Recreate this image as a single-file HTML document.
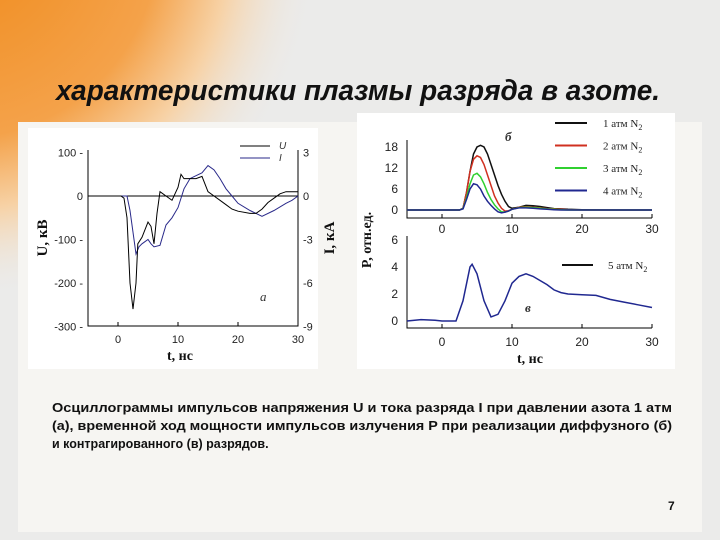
<!DOCTYPE html>
<html><head><meta charset="utf-8"><style>
body{margin:0;width:720px;height:540px;overflow:hidden;font-family:"Liberation Sans",sans-serif;}
svg{display:block}
</style></head><body>
<svg id="s" width="720" height="540" viewBox="0 0 720 540" xmlns="http://www.w3.org/2000/svg">
<defs>
<radialGradient id="og" cx="-40" cy="-60" r="360" gradientUnits="userSpaceOnUse">
<stop offset="0" stop-color="#f08a1a"/><stop offset="0.55" stop-color="#f4a24a"/><stop offset="0.75" stop-color="#f7d2a6"/><stop offset="1" stop-color="#ebebea" stop-opacity="0"/></radialGradient>
</defs>
<rect width="720" height="540" fill="#ebebea"/>
<rect width="720" height="540" fill="url(#og)"/>
<rect x="18" y="122" width="684" height="410" fill="#f6f5f2"/>
<text x="56" y="100" textLength="604" lengthAdjust="spacingAndGlyphs" font-size="29" font-weight="bold" font-style="italic" fill="#111">характеристики плазмы разряда в азоте.</text>
<rect x="28" y="128" width="290" height="241" fill="#fff"/>
<rect x="357" y="113" width="318" height="256" fill="#fff"/>
<g id="ga"></g>
<g id="gb"></g>
<g font-size="12.5" font-weight="bold" fill="#111">
<text x="52" y="412" textLength="620" lengthAdjust="spacingAndGlyphs">Осциллограммы импульсов напряжения U и тока разряда I при давлении азота 1 атм</text>
<text x="52" y="430" textLength="620" lengthAdjust="spacingAndGlyphs">(а), временной ход мощности импульсов излучения P при реализации  диффузного (б)</text>
<text x="52" y="448">и контрагированного (в) разрядов.</text>
</g>
<text x="668" y="510" font-size="12" font-weight="bold" fill="#111">7</text>
</svg>
<script>
// Chart a data
const uT=[-5,-3,-1,0.5,1,1.5,2,2.5,3,3.3,4,5,5.5,6,6.5,7,8,9,10,10.5,11,12,13,14,15,16,17,18,19,20,22,23,24,25,26,27,28,30];
const uV=[0,0,0,0,-5,-50,-200,-260,-200,-110,-95,-60,-70,-110,-40,10,0,-10,20,50,40,40,40,45,10,0,-10,-20,-30,-35,-40,-40,-30,-15,-5,5,10,10];
const iT=[-5,-3,-1,1,1.5,2,3,3.5,4,5,5.5,6,7,8,9,10,11,12,13,14,15,16,17,18,19,20,22,24,26,28,29,30];
const iV=[0,0,0,0,0,-1,-4,-3.5,-3.3,-3,-3.3,-3.5,-3.4,-2,-1.5,-0.8,0.5,1.2,1.4,1.6,2.1,1.8,1.2,0.5,0,-0.5,-1,-1.4,-1,-0.5,-0.3,0];
const aXTicks=[0,10,20,30];
const aUTicks=[100,0,-100,-200,-300];
const aITicks=[3,0,-3,-6,-9];
// Chart b data
const bT=[-5,2.5,3,3.5,4,4.5,5,5.5,6,6.5,7,7.5,8,8.5,9,9.5,10,11,12,13,14,15,16,17,18,20,25,30];
const b1=[0,0,0.5,5,11,16,18,18.5,18,16,13,10,7,4.5,2.5,1,0.5,0.8,1.3,1.2,1,0.7,0.4,0.3,0.2,0.1,0,0];
const b2=[0,0,0.5,5,11,14.5,15.5,15,13,10,7,4,2,0.5,-0.3,-0.2,0.2,0.8,0.9,0.8,0.6,0.4,0.3,0.2,0.1,0,0,0];
const b3=[0,0,0.4,3.5,7.5,10,10.5,9.5,7.5,5,3,1.5,0.3,-0.5,-0.6,-0.3,0.2,0.7,0.8,0.7,0.5,0.3,0.2,0.1,0,0,0,0];
const b4=[0,0,0.3,3,6,7.5,7.2,6,4,2.5,1.3,0.3,-0.5,-0.8,-0.6,-0.3,0.2,0.6,0.6,0.5,0.3,0.2,0.1,0,0,0,0,0];
const vT=[-5,-3,-1,0,1,2,3,4,4.3,5,6,7,8,9,10,11,12,13,14,15,16,17,18,20,22,24,26,28,30];
const vV=[0,0.1,0.05,0,0,0,1.5,4,4.2,3.5,1.5,0.3,0.5,1.5,2.8,3.3,3.5,3.3,3,2.7,2.3,2.1,2.0,1.95,1.9,1.6,1.4,1.2,1.0];
const bYTicks=[0,6,12,18];
const vYTicks=[0,2,4,6];
const bXTicks=[0,10,20,30];

const NS='http://www.w3.org/2000/svg';
function mk(p,tag,at,txt){const e=document.createElementNS(NS,tag);for(const k in at)e.setAttribute(k,at[k]);if(txt!==undefined)e.textContent=txt;p.appendChild(e);return e;}
function path(xs,ys,fx,fy){return xs.map((t,i)=>(i?'L':'M')+fx(t).toFixed(1)+','+fy(ys[i]).toFixed(1)).join('');}

// ---- chart a
const ga=document.getElementById('ga');
const ax=t=>88+(t+5)*6, au=v=>196-v*0.435, ai=v=>196-v*14.5;
let e;
e=mk(ga,'path',{d:'M88,150V326H298V150M88,196H298',stroke:'#000','stroke-width':1,fill:'none'});


aXTicks.forEach(t=>{mk(ga,'line',{x1:ax(t),x2:ax(t),y1:326,y2:322,stroke:'#000'});
 e=mk(ga,'text',{x:ax(t),y:343,'text-anchor':'middle','font-size':11,fill:'#222'},String(t));
 
 });
aUTicks.forEach(v=>{e=mk(ga,'text',{x:83,y:au(v)+4,'text-anchor':'end','font-size':11,fill:'#222'},v+(v===0?'':' -'));
 
 });
aITicks.forEach(v=>{e=mk(ga,'text',{x:303,y:ai(v)+4,'font-size':11,fill:'#222'},String(v));
 
 });
e=mk(ga,'path',{d:path(iT,iV,ax,ai),stroke:'#2a2a8a','stroke-width':1,fill:'none'});


e=mk(ga,'path',{d:path(uT,uV,ax,au),stroke:'#000','stroke-width':1,fill:'none'});


mk(ga,'line',{x1:240,x2:270,y1:146,y2:146,stroke:'#000'});
mk(ga,'line',{x1:240,x2:270,y1:158,y2:158,stroke:'#2a2a8a'});
mk(ga,'text',{x:279,y:149,'font-size':10,'font-style':'italic',fill:'#333'},'U');
mk(ga,'text',{x:279,y:161,'font-size':10,'font-style':'italic',fill:'#333'},'I');
mk(ga,'text',{x:260,y:301,'font-size':13,'font-style':'italic','font-family':'Liberation Serif',fill:'#333'},'a');
e=mk(ga,'text',{x:180,y:360,'text-anchor':'middle','font-size':14,'font-weight':'bold','font-family':'Liberation Serif',fill:'#111'},'t, нс');


e=mk(ga,'text',{transform:'translate(47,238) rotate(-90)','text-anchor':'middle','font-size':15,'font-weight':'bold','font-family':'Liberation Serif',fill:'#111'},'U, кВ');


e=mk(ga,'text',{transform:'translate(334,238) rotate(-90)','text-anchor':'middle','font-size':15,'font-weight':'bold','font-family':'Liberation Serif',fill:'#111'},'I, кА');



// ---- chart b
const gb=document.getElementById('gb');
const bx=t=>407+(t+5)*7.0, by=v=>210-v*3.5, vy=v=>321-v*13.5;
e=mk(gb,'path',{d:'M407,140V218H652M407,236V328H652',stroke:'#000','stroke-width':1,fill:'none'});


bXTicks.forEach(t=>{mk(gb,'line',{x1:bx(t),x2:bx(t),y1:218,y2:214,stroke:'#000'});mk(gb,'line',{x1:bx(t),x2:bx(t),y1:328,y2:324,stroke:'#000'});
 e=mk(gb,'text',{x:bx(t),y:233,'text-anchor':'middle','font-size':12,fill:'#222'},String(t));
 
 
 e=mk(gb,'text',{x:bx(t),y:346,'text-anchor':'middle','font-size':12,fill:'#222'},String(t));
 
 });
bYTicks.forEach(v=>{e=mk(gb,'text',{x:398,y:by(v)+4,'text-anchor':'end','font-size':12,fill:'#222'},String(v));
 
 });
vYTicks.forEach(v=>{e=mk(gb,'text',{x:398,y:vy(v)+4,'text-anchor':'end','font-size':12,fill:'#222'},String(v));
 
 });
const ser=[[b1,'#111','1 атм N'],[b2,'#d03020','2 атм N'],[b3,'#30d030','3 атм N'],[b4,'#202890','4 атм N']];
ser.forEach((s,i)=>{e=mk(gb,'path',{d:path(bT,s[0],bx,by),stroke:s[1],'stroke-width':1.5,fill:'none'});
 
 
 const y=123+i*22.5;
 mk(gb,'line',{x1:555,x2:587,y1:y,y2:y,stroke:s[1],'stroke-width':2});
 e=mk(gb,'text',{x:603,y:y+4,'font-size':11,'font-family':'Liberation Serif',fill:'#222'},s[2]);
 mk(e,'tspan',{'font-size':8,dy:3},'2');
 
 });
e=mk(gb,'path',{d:path(vT,vV,bx,vy),stroke:'#202890','stroke-width':1.5,fill:'none'});


mk(gb,'line',{x1:562,x2:593,y1:265,y2:265,stroke:'#111','stroke-width':2});
e=mk(gb,'text',{x:608,y:269,'font-size':11,'font-family':'Liberation Serif',fill:'#222'},'5 атм N');
mk(e,'tspan',{'font-size':8,dy:3},'2');


mk(gb,'text',{x:505,y:141,'font-size':13,'font-style':'italic','font-weight':'bold','font-family':'Liberation Serif',fill:'#333'},'б');
mk(gb,'text',{x:525,y:312,'font-size':13,'font-style':'italic','font-weight':'bold','font-family':'Liberation Serif',fill:'#333'},'в');
e=mk(gb,'text',{x:530,y:363,'text-anchor':'middle','font-size':14,'font-weight':'bold','font-family':'Liberation Serif',fill:'#111'},'t, нс');


e=mk(gb,'text',{transform:'translate(371,240) rotate(-90)','text-anchor':'middle','font-size':14,'font-weight':'bold','font-family':'Liberation Serif',fill:'#111'},'P, отн.ед.');


</script>
</body></html>
